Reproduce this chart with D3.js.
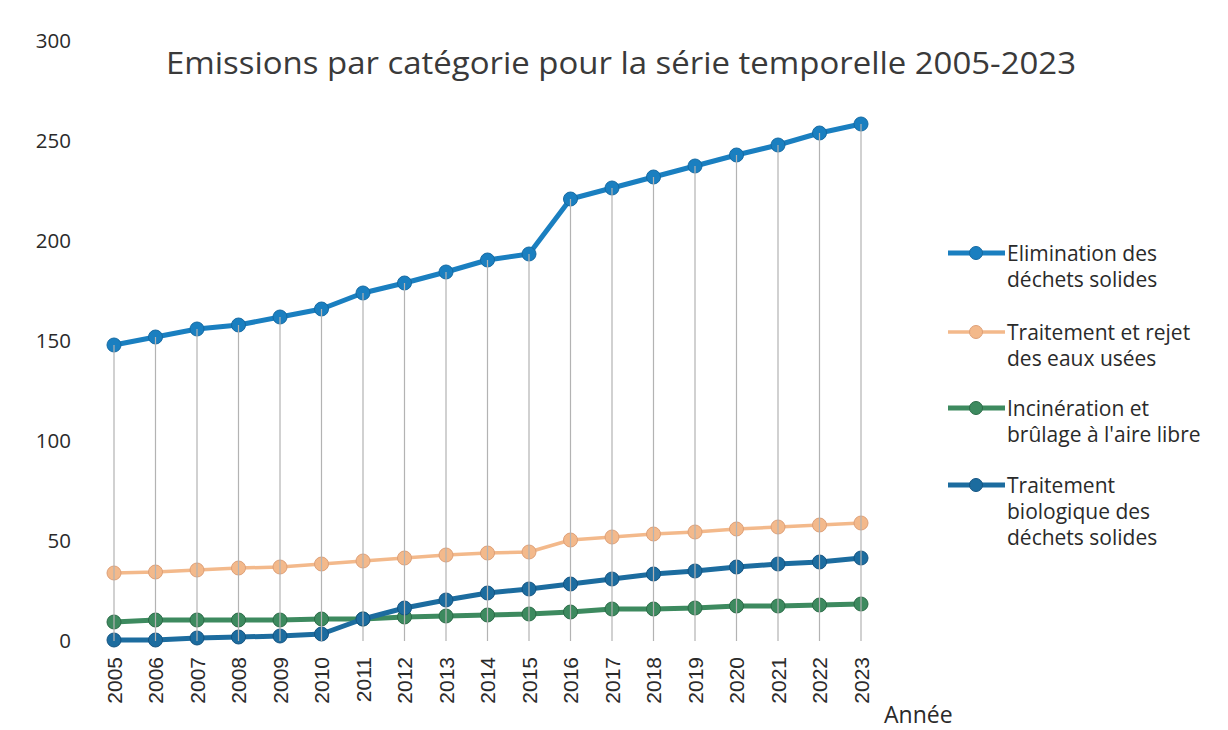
<!DOCTYPE html>
<html>
<head>
    <meta charset="utf-8">
    <title>Emissions par catégorie 2005-2023 - D3.js</title>
    <script src="https://d3js.org/d3.v7.min.js"></script>
    <style>
        body {
            margin: 0;
            background: #fff;
        }

        .chart-title {
            font-family: "Open Sans", sans-serif;
            font-size: 31px;
            fill: #3a3a3a;
            text-anchor: middle;
        }

        .y-label {
            font-family: "Open Sans", sans-serif;
            font-size: 20.5px;
            fill: #2a2a2a;
        }

        .x-label {
            font-family: "Liberation Sans", Arial, sans-serif;
            font-size: 21px;
            fill: #2a2a2a;
        }

        .axis-title {
            font-family: "Open Sans", sans-serif;
            font-size: 23px;
            fill: #2a2a2a;
        }

        .legend text {
            font-family: "Open Sans", sans-serif;
            font-size: 21px;
            fill: #2a2a2a;
        }
    </style>
</head>
<body>
<div id="chart"></div>

<script>
    // Années (axe X)
    const years = ["2005", "2006", "2007", "2008", "2009", "2010", "2011", "2012", "2013", "2014",
                   "2015", "2016", "2017", "2018", "2019", "2020", "2021", "2022", "2023"];

    // Valeurs
    const elimination = [148, 152, 156, 158, 162, 166, 174, 179, 184.5, 190.5,
                         193.5, 221, 226.5, 232, 237.5, 243, 248, 254, 258.5];
    const eauxUsees = [34, 34.5, 35.5, 36.5, 37, 38.5, 40, 41.5, 43, 44,
                       44.5, 50.5, 52, 53.5, 54.5, 56, 57, 58, 59];
    const incineration = [9.5, 10.5, 10.5, 10.5, 10.5, 11, 11, 12, 12.5, 13,
                          13.5, 14.5, 16, 16, 16.5, 17.5, 17.5, 18, 18.5];
    const biologique = [0.5, 0.5, 1.5, 2, 2.5, 3.5, 11, 16.5, 20.5, 24,
                        26, 28.5, 31, 33.5, 35, 37, 38.5, 39.5, 41.5];

    const yTicks = [0, 50, 100, 150, 200, 250, 300];

    const seriesNames = [
        ["Elimination des", "déchets solides"],
        ["Traitement et rejet", "des eaux usées"],
        ["Incinération et", "brûlage à l'aire libre"],
        ["Traitement", "biologique des", "déchets solides"]
    ];

    const series = [
        { name: seriesNames[0], values: elimination, color: "#1a7fc0", edge: "#156aa3", width: 5 },
        { name: seriesNames[1], values: eauxUsees, color: "#f3b98b", edge: "#dea078", width: 3.5 },
        { name: seriesNames[2], values: incineration, color: "#3d8a5f", edge: "#2b6b47", width: 5 },
        { name: seriesNames[3], values: biologique, color: "#1c6c9f", edge: "#145482", width: 5 }
    ];

    const W = 1228, H = 730;

    const svg = d3.select("#chart")
        .append("svg")
        .attr("width", W)
        .attr("height", H);

    // échelles
    const x = d3.scalePoint()
        .domain(years)
        .range([114, 861]);

    const y = d3.scaleLinear()
        .domain([0, 300])
        .range([641, 41]);

    // titre
    svg.append("text")
        .attr("class", "chart-title")
        .attr("x", 621)
        .attr("y", 74)
        .attr("textLength", 910)
        .attr("lengthAdjust", "spacingAndGlyphs")
        .text("Emissions par catégorie pour la série temporelle 2005-2023");

    // axe Y (sans ligne)
    const yAxis = svg.append("g")
        .attr("transform", "translate(79,0)")
        .call(d3.axisLeft(y).tickValues(yTicks).tickSize(0).tickPadding(8));
    yAxis.select(".domain").remove();
    yAxis.attr("font-size", null).attr("font-family", null);
    yAxis.selectAll("text").attr("class", "y-label").attr("fill", null);

    // axe X (étiquettes verticales)
    const xAxis = svg.append("g")
        .attr("transform", `translate(0,${y(0)})`)
        .call(d3.axisBottom(x).tickSize(0));
    xAxis.select(".domain").remove();
    xAxis.attr("font-size", null).attr("font-family", null);
    xAxis.selectAll("text")
        .attr("class", "x-label")
        .attr("fill", null)
        .attr("transform", "rotate(-90)")
        .attr("text-anchor", "end")
        .attr("x", -16)
        .attr("y", 0)
        .attr("dy", "0.35em");

    svg.append("text")
        .attr("class", "axis-title")
        .attr("x", 884)
        .attr("y", 723)
        .text("Année");

    // lignes des séries
    const line = d3.line()
        .x((d, i) => x(years[i]))
        .y(d => y(d));

    series.forEach(s => {
        svg.append("path")
            .datum(s.values)
            .attr("fill", "none")
            .attr("stroke", s.color)
            .attr("stroke-width", s.width)
            .attr("stroke-linejoin", "round")
            .attr("d", line);

        svg.selectAll(null)
            .data(s.values)
            .enter()
            .append("circle")
            .attr("cx", (d, i) => x(years[i]))
            .attr("cy", d => y(d))
            .attr("r", 7)
            .attr("fill", s.color)
            .attr("stroke", s.edge)
            .attr("stroke-width", 1);
    });

    // lignes de projection (du maximum jusqu'à 0)
    svg.selectAll(".drop")
        .data(years)
        .enter()
        .append("line")
        .attr("class", "drop")
        .attr("x1", d => x(d))
        .attr("x2", d => x(d))
        .attr("y1", (d, i) => y(d3.max(series, s => s.values[i])))
        .attr("y2", y(0))
        .attr("stroke", "#b3b3b3")
        .attr("stroke-width", 1.2);

    // légende
    const legendY = [253, 332, 408, 485];
    const legend = svg.append("g").attr("class", "legend");

    series.forEach((s, k) => {
        const g = legend.append("g").attr("transform", `translate(0,${legendY[k]})`);
        g.append("line")
            .attr("x1", 948).attr("x2", 1005)
            .attr("y1", 0).attr("y2", 0)
            .attr("stroke", s.color)
            .attr("stroke-width", s.width);
        g.append("circle")
            .attr("cx", 976).attr("cy", 0).attr("r", 6.5)
            .attr("fill", s.color)
            .attr("stroke", s.edge)
            .attr("stroke-width", 1);
        s.name.forEach((t, j) => {
            g.append("text")
                .attr("x", 1007)
                .attr("y", 8 + j * 26)
                .text(t);
        });
    });
</script>
</body>
</html>
